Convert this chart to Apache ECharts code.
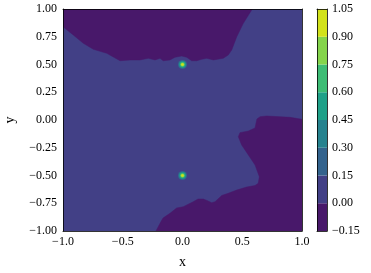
<!DOCTYPE html>
<html><head><meta charset="utf-8">
<script src="https://cdn.jsdelivr.net/npm/echarts/dist/echarts.min.js"></script>
<style>html,body{margin:0;padding:0;background:#fff}#c{width:371px;height:273px}</style>
</head><body><div id="c"></div>
<script>
// contour levels and their fill colours (viridis)
const levels = [-0.15, 0.00, 0.15, 0.30, 0.45, 0.60, 0.75, 0.90, 1.05];
const levelColors = ['#48186a', '#424086', '#33638d', '#26828e', '#1fa088', '#3dbc74', '#84d44b', '#d2e21b'];
const xTicks = [-1, -0.5, 0, 0.5, 1];
const yTicks = [-1, -0.75, -0.5, -0.25, 0, 0.25, 0.5, 0.75, 1];

// whole domain: 0.00 .. 0.15 band
const domainRegion = [[-1, -1], [1, -1], [1, 1], [-1, 1]];
// region below 0 in the upper part (data coords of the 0.0 contour)
const upperNegRegion = [
  [-1, 1], [-1, 0.841], [-0.914, 0.766], [-0.830, 0.691], [-0.746, 0.637], [-0.634, 0.601],
  [-0.523, 0.534], [-0.439, 0.541], [-0.356, 0.541], [-0.286, 0.556], [-0.230, 0.541],
  [-0.188, 0.556], [-0.161, 0.534], [-0.105, 0.541], [-0.063, 0.565], [-0.007, 0.577],
  [0.035, 0.565], [0.077, 0.534], [0.119, 0.534], [0.161, 0.547], [0.203, 0.556],
  [0.258, 0.541], [0.341, 0.556], [0.383, 0.586], [0.412, 0.631], [0.454, 0.750],
  [0.509, 0.871], [0.584, 1]
];
// region below 0 in the lower right part
const lowerNegRegion = [
  [1, 0.006], [0.900, 0.024], [0.705, 0.036], [0.649, 0.030], [0.623, 0.009], [0.615, -0.030],
  [0.607, -0.072], [0.551, -0.099], [0.481, -0.114], [0.467, -0.150], [0.495, -0.225],
  [0.551, -0.315], [0.607, -0.405], [0.643, -0.511], [0.634, -0.570], [0.607, -0.590],
  [0.537, -0.604], [0.454, -0.631], [0.383, -0.660], [0.328, -0.680], [0.297, -0.712],
  [0.272, -0.736], [0.244, -0.745], [0.205, -0.725], [0.174, -0.712], [0.130, -0.712],
  [0.090, -0.736], [0.007, -0.781], [-0.049, -0.793], [-0.105, -0.841], [-0.163, -0.883],
  [-0.188, -0.931], [-0.222, -1], [1, -1]
];
const regionPolys = [domainRegion, upperNegRegion, lowerNegRegion];
const regionLevel = [1, 0, 0];

// peaks and the radii of their 0.15, 0.30, ... 0.90 contours
const peakCenters = [[0, 0.5], [0, -0.5]];
const peakRadii = [0.040, 0.032, 0.026, 0.021, 0.016, 0.011];
const peakLevel = [2, 3, 4, 5, 6, 7];

const font = 'Liberation Serif';
const minus = s => s.replace('-', '\u2212');
const chart = echarts.init(document.getElementById('c'), null, {renderer: 'canvas'});

chart.setOption({
  animation: false,
  backgroundColor: '#fff',
  grid: [
    {left: 63, top: 9, width: 239, height: 222, containLabel: false, outerBoundsMode: 'none'},
    {left: 317, top: 9, width: 10, height: 222, containLabel: false, outerBoundsMode: 'none'}
  ],
  xAxis: [
    {gridIndex: 0, type: 'value', min: -1, max: 1, interval: 0.5, z: 10,
     axisLine: {show: true, onZero: false, lineStyle: {color: '#000', width: 0.8}},
     axisTick: {show: false}, splitLine: {show: false},
     axisLabel: {margin: 5, color: '#000', fontFamily: font, fontSize: 12,
                 formatter: v => minus(v.toFixed(1))},
     name: 'x', nameLocation: 'middle', nameGap: 24,
     nameTextStyle: {color: '#000', fontFamily: font, fontSize: 14}},
    {gridIndex: 0, type: 'value', min: -1, max: 1, position: 'top', z: 10,
     axisLine: {show: true, onZero: false, lineStyle: {color: '#000', width: 0.8}},
     axisTick: {show: false}, axisLabel: {show: false}, splitLine: {show: false}},
    {gridIndex: 1, type: 'value', min: 0, max: 1, z: 10,
     axisLine: {show: true, onZero: false, lineStyle: {color: '#000', width: 0.8}},
     axisTick: {show: false}, axisLabel: {show: false}, splitLine: {show: false}},
    {gridIndex: 1, type: 'value', min: 0, max: 1, position: 'top', z: 10,
     axisLine: {show: true, onZero: false, lineStyle: {color: '#000', width: 0.8}},
     axisTick: {show: false}, axisLabel: {show: false}, splitLine: {show: false}}
  ],
  yAxis: [
    {gridIndex: 0, type: 'value', min: -1, max: 1, interval: 0.25, z: 10,
     axisLine: {show: true, onZero: false, lineStyle: {color: '#000', width: 0.8}},
     axisTick: {show: false}, splitLine: {show: false},
     axisLabel: {margin: 6, color: '#000', fontFamily: font, fontSize: 12,
                 formatter: v => minus(v.toFixed(2))},
     name: 'y', nameLocation: 'middle', nameGap: 46, nameRotate: 90,
     nameTextStyle: {color: '#000', fontFamily: font, fontSize: 14}},
    {gridIndex: 0, type: 'value', min: -1, max: 1, position: 'right', z: 10,
     axisLine: {show: true, onZero: false, lineStyle: {color: '#000', width: 0.8}},
     axisTick: {show: false}, axisLabel: {show: false}, splitLine: {show: false}},
    {gridIndex: 1, type: 'value', min: -0.15, max: 1.05, interval: 0.15, position: 'right', z: 10,
     axisLine: {show: true, onZero: false, lineStyle: {color: '#000', width: 0.8}},
     axisTick: {show: false}, splitLine: {show: false},
     axisLabel: {margin: 5, color: '#000', fontFamily: font, fontSize: 12,
                 formatter: v => minus((Math.round(v * 100) / 100).toFixed(2))}},
    {gridIndex: 1, type: 'value', min: -0.15, max: 1.05, position: 'left', z: 10,
     axisLine: {show: true, onZero: false, lineStyle: {color: '#000', width: 0.8}},
     axisTick: {show: false}, axisLabel: {show: false}, splitLine: {show: false}}
  ],
  series: [
    {
      type: 'custom', xAxisIndex: 0, yAxisIndex: 0, clip: true,
      data: regionPolys.map(p => p[0]),
      renderItem: (params, api) => ({
        type: 'polygon',
        shape: {points: regionPolys[params.dataIndex].map(p => api.coord(p))},
        style: {fill: levelColors[regionLevel[params.dataIndex]], stroke: levelColors[regionLevel[params.dataIndex]], lineWidth: 0.5}
      })
    },
    {
      type: 'custom', xAxisIndex: 0, yAxisIndex: 0, clip: true,
      data: peakCenters,
      renderItem: (params, api) => {
        const c = api.coord([api.value(0), api.value(1)]);
        return {
          type: 'group',
          children: peakRadii.map((r, k) => {
            const s = api.size([r, r]);
            return {type: 'circle', shape: {cx: c[0], cy: c[1], r: (s[0] + s[1]) / 2},
                    style: {fill: levelColors[peakLevel[k]]}};
          })
        };
      }
    },
    {
      type: 'custom', xAxisIndex: 2, yAxisIndex: 2,
      data: levelColors.map((c, i) => [levels[i], levels[i + 1]]),
      renderItem: (params, api) => {
        const p0 = api.coord([0, api.value(0)]);
        const p1 = api.coord([1, api.value(1)]);
        return {type: 'rect', shape: {x: p0[0], y: p1[1], width: p1[0] - p0[0], height: p0[1] - p1[1]},
                style: {fill: levelColors[params.dataIndex]}};
      }
    }
  ]
});
</script></body></html>
